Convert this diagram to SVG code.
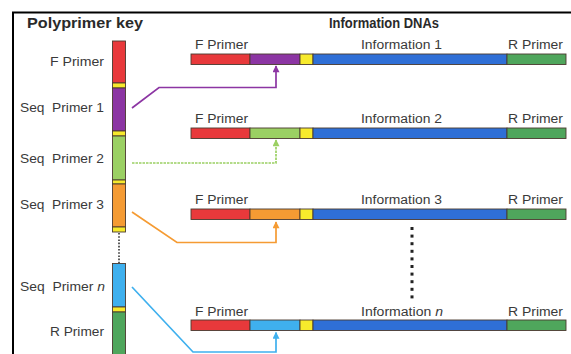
<svg xmlns="http://www.w3.org/2000/svg" width="571" height="354" viewBox="0 0 571 354">
<defs>
<style>
.t{font-family:"Liberation Sans",Arial,sans-serif;font-size:12px;fill:#3a3a3a}
.h{font-family:"Liberation Sans",Arial,sans-serif;font-size:14px;font-weight:bold;fill:#2a2a2a}
.seg{stroke:#4a3a30;stroke-width:0.9}
.red{fill:#e8393b}.pur{fill:#8c35a3}.yel{fill:#f7ea2c}.blu{fill:#2f6fd6}.grn{fill:#4fa65c}
.lgr{fill:#9bd063}.org{fill:#f59b33}.lbl{fill:#3fb0ee}
.conn{fill:none;stroke-width:1.7}
</style>
<marker id="aP" viewBox="0 0 10 10" refX="9" refY="5" markerWidth="8" markerHeight="7" markerUnits="userSpaceOnUse" orient="auto"><path d="M0,0 L10,5 L0,10 z" fill="#8c35a3"/></marker>
<marker id="aG" viewBox="0 0 10 10" refX="9" refY="5" markerWidth="8" markerHeight="7" markerUnits="userSpaceOnUse" orient="auto"><path d="M0,0 L10,5 L0,10 z" fill="#9bd063"/></marker>
<marker id="aO" viewBox="0 0 10 10" refX="9" refY="5" markerWidth="8" markerHeight="7" markerUnits="userSpaceOnUse" orient="auto"><path d="M0,0 L10,5 L0,10 z" fill="#f59b33"/></marker>
<marker id="aB" viewBox="0 0 10 10" refX="9" refY="5" markerWidth="8" markerHeight="7" markerUnits="userSpaceOnUse" orient="auto"><path d="M0,0 L10,5 L0,10 z" fill="#3fb0ee"/></marker>
</defs>
<rect width="571" height="354" fill="#fff"/>
<path d="M13,354 V12.5 H571" fill="none" stroke="#000" stroke-width="2"/>

<text class="h" x="27" y="28" textLength="116" lengthAdjust="spacingAndGlyphs">Polyprimer key</text>
<text class="h" x="329" y="28" textLength="110" lengthAdjust="spacingAndGlyphs">Information DNAs</text>

<g id="key">
<rect class="seg red" x="112.5" y="41" width="13" height="42"/>
<rect class="seg yel" x="112.5" y="83" width="13" height="5"/>
<rect class="seg pur" x="112.5" y="88" width="13" height="43"/>
<rect class="seg yel" x="112.5" y="131" width="13" height="5"/>
<rect class="seg lgr" x="112.5" y="136" width="13" height="44"/>
<rect class="seg yel" x="112.5" y="180" width="13" height="4"/>
<rect class="seg org" x="112.5" y="184" width="13" height="43"/>
<rect class="seg yel" x="112.5" y="227" width="13" height="5"/>
<line x1="119" y1="233" x2="119" y2="263" stroke="#333" stroke-width="1.6" stroke-dasharray="1.6 1.6"/>
<rect class="seg lbl" x="112.5" y="263.5" width="13" height="43.5"/>
<rect class="seg yel" x="112.5" y="307" width="13" height="5"/>
<rect class="seg grn" x="112.5" y="312" width="13" height="44"/>
<text class="t" x="104" y="66" text-anchor="end" textLength="54" lengthAdjust="spacingAndGlyphs">F Primer</text>
<text class="t" x="20" y="112" textLength="84" lengthAdjust="spacingAndGlyphs" xml:space="preserve">Seq  Primer 1</text>
<text class="t" x="20" y="163" textLength="84" lengthAdjust="spacingAndGlyphs" xml:space="preserve">Seq  Primer 2</text>
<text class="t" x="20" y="209" textLength="84" lengthAdjust="spacingAndGlyphs" xml:space="preserve">Seq  Primer 3</text>
<text class="t" x="20" y="291" textLength="85" lengthAdjust="spacingAndGlyphs" xml:space="preserve">Seq  Primer <tspan font-style="italic">n</tspan></text>
<text class="t" x="104" y="336" text-anchor="end" textLength="54" lengthAdjust="spacingAndGlyphs">R Primer</text>
</g>

<g id="dna1">
<rect class="seg red" x="191" y="54" width="59" height="10.5"/>
<rect class="seg pur" x="250" y="54" width="50" height="10.5"/>
<rect class="seg yel" x="300" y="54" width="13" height="10.5"/>
<rect class="seg blu" x="313" y="54" width="194" height="10.5"/>
<rect class="seg grn" x="507" y="54" width="59" height="10.5"/>
<text class="t" x="195" y="49" textLength="53" lengthAdjust="spacingAndGlyphs">F Primer</text>
<text class="t" x="361" y="49" textLength="81" lengthAdjust="spacingAndGlyphs">Information 1</text>
<text class="t" x="508" y="49" textLength="55" lengthAdjust="spacingAndGlyphs">R Primer</text>
</g>
<g id="dna2">
<rect class="seg red" x="191" y="128" width="59" height="10.5"/>
<rect class="seg lgr" x="250" y="128" width="50" height="10.5"/>
<rect class="seg yel" x="300" y="128" width="13" height="10.5"/>
<rect class="seg blu" x="313" y="128" width="194" height="10.5"/>
<rect class="seg grn" x="507" y="128" width="59" height="10.5"/>
<text class="t" x="195" y="123" textLength="53" lengthAdjust="spacingAndGlyphs">F Primer</text>
<text class="t" x="361" y="123" textLength="81" lengthAdjust="spacingAndGlyphs">Information 2</text>
<text class="t" x="508" y="123" textLength="55" lengthAdjust="spacingAndGlyphs">R Primer</text>
</g>
<g id="dna3">
<rect class="seg red" x="191" y="209" width="59" height="10.5"/>
<rect class="seg org" x="250" y="209" width="50" height="10.5"/>
<rect class="seg yel" x="300" y="209" width="13" height="10.5"/>
<rect class="seg blu" x="313" y="209" width="194" height="10.5"/>
<rect class="seg grn" x="507" y="209" width="59" height="10.5"/>
<text class="t" x="195" y="204" textLength="53" lengthAdjust="spacingAndGlyphs">F Primer</text>
<text class="t" x="361" y="204" textLength="81" lengthAdjust="spacingAndGlyphs">Information 3</text>
<text class="t" x="508" y="204" textLength="55" lengthAdjust="spacingAndGlyphs">R Primer</text>
</g>
<g id="dots">
<rect x="410.5" y="227" width="3" height="3" fill="#222"/>
<rect x="410.5" y="234.6" width="3" height="3" fill="#222"/>
<rect x="410.5" y="242.2" width="3" height="3" fill="#222"/>
<rect x="410.5" y="249.8" width="3" height="3" fill="#222"/>
<rect x="410.5" y="257.4" width="3" height="3" fill="#222"/>
<rect x="410.5" y="265" width="3" height="3" fill="#222"/>
<rect x="410.5" y="272.6" width="3" height="3" fill="#222"/>
<rect x="410.5" y="280.2" width="3" height="3" fill="#222"/>
<rect x="410.5" y="287.8" width="3" height="3" fill="#222"/>
<rect x="410.5" y="295.4" width="3" height="3" fill="#222"/>
</g>
<g id="dnan">
<rect class="seg red" x="191" y="320" width="59" height="10.5"/>
<rect class="seg lbl" x="250" y="320" width="50" height="10.5"/>
<rect class="seg yel" x="300" y="320" width="13" height="10.5"/>
<rect class="seg blu" x="313" y="320" width="194" height="10.5"/>
<rect class="seg grn" x="507" y="320" width="59" height="10.5"/>
<text class="t" x="195" y="316" textLength="53" lengthAdjust="spacingAndGlyphs">F Primer</text>
<text class="t" x="361" y="316" textLength="82" lengthAdjust="spacingAndGlyphs">Information <tspan font-style="italic">n</tspan></text>
<text class="t" x="508" y="316" textLength="55" lengthAdjust="spacingAndGlyphs">R Primer</text>
</g>

<g id="connectors">
<polyline class="conn" stroke="#8c35a3" points="132,108 159,87.5 276,87.5 276,66" marker-end="url(#aP)"/>
<polyline class="conn" stroke="#9bd063" stroke-dasharray="2.5 1" points="132,163 276,163 276,140" marker-end="url(#aG)"/>
<polyline class="conn" stroke="#f59b33" points="132,212 177,242.5 276,242.5 276,222" marker-end="url(#aO)"/>
<polyline class="conn" stroke="#3fb0ee" points="132,287 193,352 276,352 276,332.5" marker-end="url(#aB)"/>
</g>
</svg>
